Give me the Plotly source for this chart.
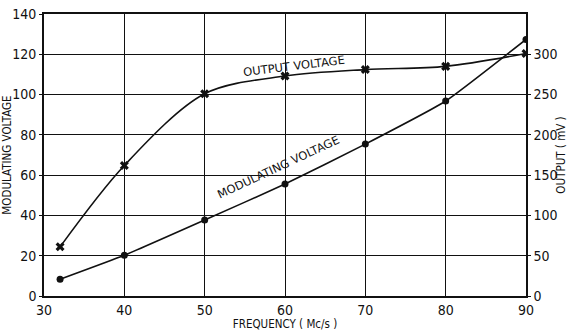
import plotly.graph_objects as go

# Frequency sweep (Mc/s)
freq = [32, 40, 50, 60, 70, 80, 90]
# Modulating voltage required at each frequency (left axis)
modulating_voltage = [8.3, 20.2, 37.7, 55.6, 75.4, 96.8, 127.4]
# Output voltage in mV (right axis)
output_mv = [61, 162, 251, 273, 281, 285, 301]

x_ticks = [30, 40, 50, 60, 70, 80, 90]
left_ticks = [0, 20, 40, 60, 80, 100, 120, 140]
right_ticks = [0, 50, 100, 150, 200, 250, 300]

ink = "#111111"
tick_font = dict(family="DejaVu Sans Condensed, Liberation Sans Narrow, sans-serif", size=14, color=ink)
title_font = dict(family="DejaVu Sans Condensed, DejaVu Sans, sans-serif", size=11.5, color=ink)
label_font = dict(family="DejaVu Sans, sans-serif", size=11.5, color=ink)

fig = go.Figure()

fig.add_trace(go.Scatter(
    x=freq, y=modulating_voltage, mode="lines+markers",
    line=dict(color=ink, width=1.6, shape="spline", smoothing=0.4),
    marker=dict(symbol="circle", size=7, color=ink),
    yaxis="y", showlegend=False,
))
fig.add_trace(go.Scatter(
    x=freq, y=output_mv, mode="lines+markers",
    line=dict(color=ink, width=1.6, shape="spline", smoothing=0.9),
    marker=dict(symbol="x", size=8, color=ink),
    yaxis="y2", showlegend=False,
))

fig.update_layout(
    width=568, height=331,
    margin=dict(l=44, r=42, t=14, b=35),
    paper_bgcolor="white", plot_bgcolor="white",
    xaxis=dict(
        range=[30, 90], tickvals=x_ticks, ticktext=[str(v) for v in x_ticks],
        showgrid=True, gridcolor=ink, gridwidth=1.3, automargin=False,
        showline=True, linecolor=ink, linewidth=1.6, mirror=True,
        ticks="", tickfont=tick_font, zeroline=False,
        title=dict(text="FREQUENCY ( Mc/s )", font=title_font, standoff=1),
    ),
    yaxis=dict(
        range=[0, 140], tickvals=left_ticks, automargin=False,
        showgrid=True, gridcolor=ink, gridwidth=1.3,
        showline=True, linecolor=ink, linewidth=1.6,
        ticks="outside", ticklen=3, tickcolor=ink, tickfont=tick_font, zeroline=False,
        title=dict(text="MODULATING VOLTAGE", font=title_font, standoff=0),
    ),
    yaxis2=dict(
        range=[0, 350], tickvals=right_ticks, overlaying="y", side="right", automargin=False,
        showgrid=False, showline=True, linecolor=ink, linewidth=1.6,
        ticks="outside", ticklen=3, tickcolor=ink, tickfont=tick_font, zeroline=False,
        title=dict(text="OUTPUT ( mV )", font=title_font, standoff=1),
    ),
    annotations=[
        dict(x=61.1, y=114, xref="x", yref="y", text="OUTPUT VOLTAGE",
             showarrow=False, textangle=-7, font=label_font),
        dict(x=59.2, y=63.8, xref="x", yref="y", text="MODULATING VOLTAGE",
             showarrow=False, textangle=-25, font=label_font),
    ],
)

fig.write_html("out.html")
